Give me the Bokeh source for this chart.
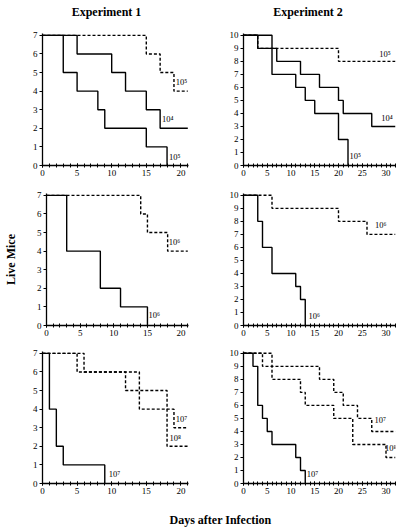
from bokeh.plotting import figure
from bokeh.layouts import column, row
from bokeh.models import Range1d, FixedTicker, ColumnDataSource, LabelSet, Label
from bokeh.embed import file_html
from bokeh.resources import INLINE

SERIF = "Liberation Serif"

# ---------------- data (days, live mice) ----------------
# Experiment 1, row 1
e1r1_dash_t = [0, 15, 17, 19, 21]
e1r1_dash_n = [7, 6, 5, 4, 4]
e1r1_s4_t = [0, 5, 10, 12, 15, 17, 21]
e1r1_s4_n = [7, 6, 5, 4, 3, 2, 2]
e1r1_s5_t = [0, 3, 5, 8, 9, 15, 18]
e1r1_s5_n = [7, 5, 4, 3, 2, 1, 0]
e1r1_lab = ["10⁵", "10⁴", "10⁵"]
e1r1_lab_x = [20.1, 18.1, 19.1]
e1r1_lab_y = [4.5, 2.49, 0.48]

# Experiment 2, row 1
e2r1_dash_t = [0, 3, 20, 32]
e2r1_dash_n = [10, 9, 8, 8]
e2r1_s4_t = [0, 3, 7, 12, 16, 20, 21, 27, 32]
e2r1_s4_n = [10, 9, 8, 7, 6, 5, 4, 3, 3]
e2r1_s5_t = [0, 6, 11, 13, 15, 20, 22]
e2r1_s5_n = [10, 7, 6, 5, 4, 2, 0]
e2r1_lab = ["10⁵", "10⁴", "10⁵"]
e2r1_lab_x = [29.8, 30.2, 23.5]
e2r1_lab_y = [8.6, 3.63, 0.7]

# Experiment 1, row 2
e1r2_dash_t = [0, 14, 15, 18, 21]
e1r2_dash_n = [7, 6, 5, 4, 4]
e1r2_s_t = [0, 3, 8, 11, 15]
e1r2_s_n = [7, 4, 2, 1, 0]
e1r2_lab = ["10⁶", "10⁶"]
e1r2_lab_x = [19.0, 16.0]
e1r2_lab_y = [4.5, 0.57]

# Experiment 2, row 2
e2r2_dash_t = [0, 6, 20, 26, 32]
e2r2_dash_n = [10, 9, 8, 7, 7]
e2r2_s_t = [0, 3, 4, 6, 11, 12, 13]
e2r2_s_n = [10, 8, 6, 4, 3, 2, 0]
e2r2_lab = ["10⁶", "10⁶"]
e2r2_lab_x = [28.9, 14.9]
e2r2_lab_y = [7.7, 0.71]

# Experiment 1, row 3
e1r3_d7_t = [0, 6, 14, 19, 21]
e1r3_d7_n = [7, 6, 4, 3, 3]
e1r3_d8_t = [0, 5, 12, 18, 21]
e1r3_d8_n = [7, 6, 5, 2, 2]
e1r3_s_t = [0, 1, 2, 3, 9]
e1r3_s_n = [7, 4, 2, 1, 0]
e1r3_lab = ["10⁷", "10⁸", "10⁷"]
e1r3_lab_x = [20.1, 19.2, 10.4]
e1r3_lab_y = [3.47, 2.47, 0.5]

# Experiment 2, row 3
e2r3_d7_t = [0, 4, 16, 19, 21, 24, 27, 32]
e2r3_d7_n = [10, 9, 8, 7, 6, 5, 4, 4]
e2r3_d8_t = [0, 6, 12, 13, 19, 23, 30, 32]
e2r3_d8_n = [10, 8, 7, 6, 5, 3, 2, 2]
e2r3_s_t = [0, 2, 3, 4, 5, 6, 11, 12, 13]
e2r3_s_n = [10, 9, 6, 5, 4, 3, 2, 1, 0]
e2r3_lab = ["10⁷", "10⁸", "10⁷"]
e2r3_lab_x = [28.8, 31.0, 14.5]
e2r3_lab_y = [4.86, 2.75, 0.71]

exp1_xticks = [0, 5, 10, 15, 20]
exp2_xticks = [0, 5, 10, 15, 20, 25, 30]
exp1_yticks = list(range(0, 8))
exp2_yticks = list(range(0, 11))

titles = ["Experiment 1", "Experiment 2"]
y_title = "Live Mice"
x_title = "Days after Infection"

# ---------------- layout geometry ----------------
LW, RW = 213, 197
FRAME_H = 132


def panel(width, height, bl, br, bt, bb, x_end, y_end, xticks, yticks,
          curves, labs, lx, ly, ylabel=None):
    p = figure(width=width, height=height,
               x_range=Range1d(0, x_end), y_range=Range1d(0, y_end),
               output_backend="svg", toolbar_location=None,
               min_border_left=bl, min_border_right=br,
               min_border_top=bt, min_border_bottom=bb)
    p.outline_line_color = None
    p.grid.visible = False
    p.background_fill_color = "white"
    p.border_fill_color = "white"
    for t, n, dash in curves:
        p.step(x=t, y=n, mode="after", line_color="black", line_width=1.4,
               line_dash=("3 2" if dash else "solid"))
    src = ColumnDataSource(dict(x=lx, y=ly, t=labs))
    p.add_layout(LabelSet(x="x", y="y", text="t", source=src,
                          text_font=SERIF, text_font_size="8.5px",
                          text_align="center", text_baseline="middle",
                          text_color="black"))
    xa = p.xaxis[0]
    xa.ticker = FixedTicker(ticks=xticks, minor_ticks=list(range(0, int(x_end) + 1)))
    xa.major_tick_in = 2
    xa.major_tick_out = 2
    xa.minor_tick_in = 2
    xa.minor_tick_out = 2
    ya = p.yaxis[0]
    ya.ticker = FixedTicker(ticks=yticks)
    ya.major_tick_in = 0
    ya.major_tick_out = 3
    ya.minor_tick_in = 0
    ya.minor_tick_out = 0
    for ax in (xa, ya):
        ax.axis_line_color = "black"
        ax.axis_line_width = 1.3
        ax.major_tick_line_color = "black"
        ax.minor_tick_line_color = "black"
        ax.major_label_text_font = SERIF
        ax.major_label_text_font_size = "9px"
        ax.major_label_text_color = "black"
        ax.major_label_standoff = 2
    if ylabel:
        ya.axis_label = ylabel
        ya.axis_label_text_font = SERIF
        ya.axis_label_text_font_style = "bold"
        ya.axis_label_text_font_size = "12px"
        ya.axis_label_text_color = "black"
        ya.axis_label_standoff = 16
    return p


def blank(width, height):
    p = figure(width=width, height=height, x_range=Range1d(0, width),
               y_range=Range1d(0, height), output_backend="svg",
               toolbar_location=None, x_axis_location=None,
               y_axis_location=None, min_border=0)
    p.outline_line_color = None
    p.grid.visible = False
    return p


header = blank(410, 20)
for tx, cx in zip(titles, [106, 307.5]):
    header.add_layout(Label(x=cx, y=9, text=tx, text_font=SERIF,
                            text_font_style="bold", text_font_size="12px",
                            text_align="center", text_baseline="middle",
                            text_color="black"))

# row 1
p11 = panel(LW, 13 + FRAME_H + 19, 42, 25, 13, 19, 21.1, 7.1, exp1_xticks, exp1_yticks,
            [(e1r1_dash_t, e1r1_dash_n, True), (e1r1_s4_t, e1r1_s4_n, False),
             (e1r1_s5_t, e1r1_s5_n, False)], e1r1_lab, e1r1_lab_x, e1r1_lab_y)
p12 = panel(RW, 13 + FRAME_H + 19, 30, 15, 13, 19, 32, 10.14, exp2_xticks, exp2_yticks,
            [(e2r1_dash_t, e2r1_dash_n, True), (e2r1_s4_t, e2r1_s4_n, False),
             (e2r1_s5_t, e2r1_s5_n, False)], e2r1_lab, e2r1_lab_x, e2r1_lab_y)
# row 2
p21 = panel(LW, 9 + FRAME_H + 17, 42, 25, 9, 17, 21.1, 7.1, exp1_xticks, exp1_yticks,
            [(e1r2_dash_t, e1r2_dash_n, True), (e1r2_s_t, e1r2_s_n, False)],
            e1r2_lab, e1r2_lab_x, e1r2_lab_y, ylabel=y_title)
p22 = panel(RW, 9 + FRAME_H + 17, 30, 15, 9, 17, 32, 10.14, exp2_xticks, exp2_yticks,
            [(e2r2_dash_t, e2r2_dash_n, True), (e2r2_s_t, e2r2_s_n, False)],
            e2r2_lab, e2r2_lab_x, e2r2_lab_y)
# row 3
p31 = panel(LW, 9 + FRAME_H + 20, 42, 25, 9, 20, 21.1, 7.1, exp1_xticks, exp1_yticks,
            [(e1r3_d7_t, e1r3_d7_n, True), (e1r3_d8_t, e1r3_d8_n, True),
             (e1r3_s_t, e1r3_s_n, False)], e1r3_lab, e1r3_lab_x, e1r3_lab_y)
p32 = panel(RW, 9 + FRAME_H + 20, 30, 15, 9, 20, 32, 10.14, exp2_xticks, exp2_yticks,
            [(e2r3_d7_t, e2r3_d7_n, True), (e2r3_d8_t, e2r3_d8_n, True),
             (e2r3_s_t, e2r3_s_n, False)], e2r3_lab, e2r3_lab_x, e2r3_lab_y)

footer = blank(410, 26)
footer.add_layout(Label(x=220, y=9.5, text=x_title, text_font=SERIF,
                        text_font_style="bold", text_font_size="12px",
                        text_align="center", text_baseline="middle",
                        text_color="black"))

layout = column(header, row(p11, p12), row(p21, p22), row(p31, p32), footer)

with open("out.html", "w") as f:
    f.write(file_html(layout, INLINE))
